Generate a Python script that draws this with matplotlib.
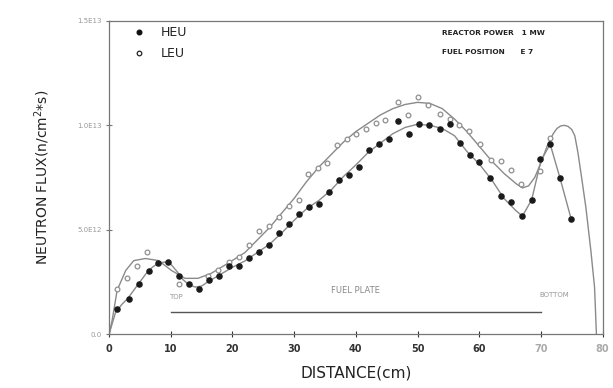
import matplotlib
matplotlib.use("Agg")
import matplotlib.pyplot as plt

# HEU measured points (distance cm, flux in 1e12)
heu_x = [1.3, 3.2, 4.8, 6.4, 8.0, 9.6, 11.4, 13.0, 14.6, 16.2, 17.8, 19.5,
         21.1, 22.7, 24.3, 25.9, 27.6, 29.2, 30.8, 32.4, 34.0, 35.6, 37.3, 38.9,
         40.5, 42.1, 43.7, 45.3, 46.9, 48.6, 50.2, 51.8, 53.6, 55.2, 56.9, 58.5,
         60.0, 61.8, 63.5, 65.1, 66.9, 68.5, 69.9, 71.5, 73.1, 74.9]
heu_y = [1.18, 1.66, 2.38, 3.0, 3.4, 3.46, 2.79, 2.4, 2.18, 2.57, 2.78, 3.28,
         3.27, 3.64, 3.95, 4.28, 4.83, 5.28, 5.77, 6.08, 6.25, 6.82, 7.37, 7.62,
         8.0, 8.81, 9.1, 9.33, 10.19, 9.57, 10.05, 10.0, 9.81, 10.05, 9.14, 8.57,
         8.24, 7.5, 6.6, 6.33, 5.67, 6.43, 8.4, 9.1, 7.47, 5.52]

# LEU measured points
leu_x = [1.3, 2.9, 4.5, 6.1, 11.3, 16.0, 17.6, 19.5, 21.1, 22.7, 24.3, 25.9,
         27.5, 29.1, 30.8, 32.2, 33.8, 35.4, 37.0, 38.6, 40.1, 41.7, 43.3, 44.8,
         46.9, 48.5, 50.1, 51.7, 53.6, 55.2, 56.7, 58.3, 60.1, 61.9, 63.5, 65.1,
         66.7, 69.9, 71.5]
leu_y = [2.15, 2.7, 3.26, 3.92, 2.4, 2.8, 3.05, 3.43, 3.67, 4.28, 4.92, 5.16,
         5.6, 6.13, 6.4, 7.65, 7.95, 8.2, 9.04, 9.36, 9.57, 9.81, 10.1, 10.25,
         11.1, 10.48, 11.35, 10.98, 10.52, 10.29, 10.0, 9.75, 9.1, 8.33, 8.29, 7.85,
         7.19, 7.81, 9.38]

# fitted curves
heu_cx = [0, 1, 2, 3, 4, 5, 6, 7, 8, 9, 10, 11, 12, 13, 14, 15, 16, 18, 20, 22,
          24, 26, 28, 30, 32, 34, 36, 38, 40, 42, 44, 46, 48, 50, 52, 54, 56, 58,
          60, 62, 64, 66, 67, 68.5, 70, 71.5, 73.1, 74.9]
heu_cy = [0, 1.0, 1.4, 1.7, 2.1, 2.5, 2.9, 3.2, 3.4, 3.45, 3.35, 3.0, 2.6, 2.35,
          2.25, 2.3, 2.5, 2.85, 3.2, 3.5, 3.9, 4.3, 4.85, 5.45, 6.0, 6.4, 6.9, 7.55,
          8.1, 8.7, 9.15, 9.6, 9.9, 10.05, 10.0, 9.85, 9.5, 8.75, 8.15, 7.4, 6.5,
          5.9, 5.65, 6.43, 8.3, 9.1, 7.47, 5.52]

leu_cx = [0, 0.5, 1.3, 2.7, 4.0, 5.9, 8.0, 10.1, 12.3, 14.4, 16.5, 19.2, 22, 24,
          26, 28, 30, 32, 34, 36, 38, 40, 42, 44, 46, 48, 50, 52, 54, 56, 58, 60,
          62, 64, 66, 67, 68, 69, 70, 71, 72, 72.6, 73.2, 73.8, 74.4, 75.0, 75.5,
          76.0, 76.6, 77.3, 78.1, 78.7, 79.0]
leu_cy = [0, 0.67, 2.1, 3.05, 3.52, 3.62, 3.52, 3.05, 2.67, 2.67, 2.9, 3.38, 3.9,
          4.5, 5.1, 5.8, 6.5, 7.3, 8.0, 8.6, 9.2, 9.7, 10.1, 10.5, 10.8, 11.0, 11.1,
          11.05, 10.8, 10.3, 9.7, 9.0, 8.3, 7.7, 7.2, 7.0, 7.1, 7.5, 8.2, 9.0, 9.6,
          9.85, 9.97, 10.0, 9.95, 9.8, 9.5, 8.7, 7.5, 6.05, 4.0, 2.24, 0]

x_ticks = [0, 10, 20, 30, 40, 50, 60, 70, 80]
y_ticks = [0, 5, 10, 15]
y_tick_labels = ["0.0", "5.0E12", "1.0E13", "1.5E13"]

fig = plt.figure(figsize=(6.13, 3.88), dpi=100)
ax = fig.add_axes([0.178, 0.139, 0.805, 0.807])

line_col = "#8a8a8a"
ax.plot(leu_cx, leu_cy, color=line_col, lw=1.0, zorder=2)
ax.plot(heu_cx, heu_cy, color=line_col, lw=1.0, zorder=2)
ax.plot(leu_x, leu_y, linestyle="none", marker="o", ms=3.4, mfc="white",
        mec="#8f8f8f", mew=0.9, zorder=3)
ax.plot(heu_x, heu_y, linestyle="none", marker="o", ms=3.7, mfc="#1a1a1a",
        mec="#1a1a1a", zorder=4)

# fuel plate marker
ax.plot([10, 70], [1.05, 1.05], color="#555555", lw=1.0)
ax.text(40, 2.1, "FUEL PLATE", fontsize=6, color="#888888", ha="center", va="center")
ax.text(10.8, 1.76, "TOP", fontsize=5, color="#999999", ha="center", va="center")
ax.text(72.2, 1.86, "BOTTOM", fontsize=5, color="#999999", ha="center", va="center")

ax.text(54.0, 14.4, "REACTOR POWER   1 MW", fontsize=5.3, ha="left", va="center",
        fontweight="bold", color="#222222")
ax.text(54.0, 13.5, "FUEL POSITION      E 7", fontsize=5.3, ha="left", va="center",
        fontweight="bold", color="#222222")

# legend
ax.plot([4.8], [14.45], marker="o", ms=3.3, color="#111111", linestyle="none")
ax.plot([4.9], [13.45], marker="o", ms=3.3, mfc="white", mec="#222222", mew=0.9,
        linestyle="none")
ax.text(8.4, 14.45, "HEU", fontsize=9, va="center", ha="left", color="#222222")
ax.text(8.4, 13.45, "LEU", fontsize=9, va="center", ha="left", color="#222222")

ax.set_xlim(0, 80)
ax.set_ylim(0, 15)
ax.set_xticks(x_ticks)
ax.set_yticks(y_ticks)
ax.set_yticklabels(y_tick_labels)
ax.tick_params(axis="x", direction="inout", length=5, labelsize=7, pad=5,
               colors="#333333")
ax.tick_params(axis="y", direction="inout", length=5, labelsize=5, pad=3,
               labelcolor="#999999", color="#777777")
for lbl in ax.get_xticklabels():
    lbl.set_fontweight("bold")
for lbl in ax.get_xticklabels()[-2:]:
    lbl.set_color("#aaaaaa")
for s in ax.spines.values():
    s.set_color("#777777")
    s.set_linewidth(0.9)

ax.set_xlabel("DISTANCE(cm)", fontsize=11, labelpad=8, color="#222222")
ax.set_ylabel("NEUTRON FLUX(n/cm$^{2}$*s)", fontsize=10, labelpad=18, color="#222222")

fig.savefig("out.png", dpi=100)
